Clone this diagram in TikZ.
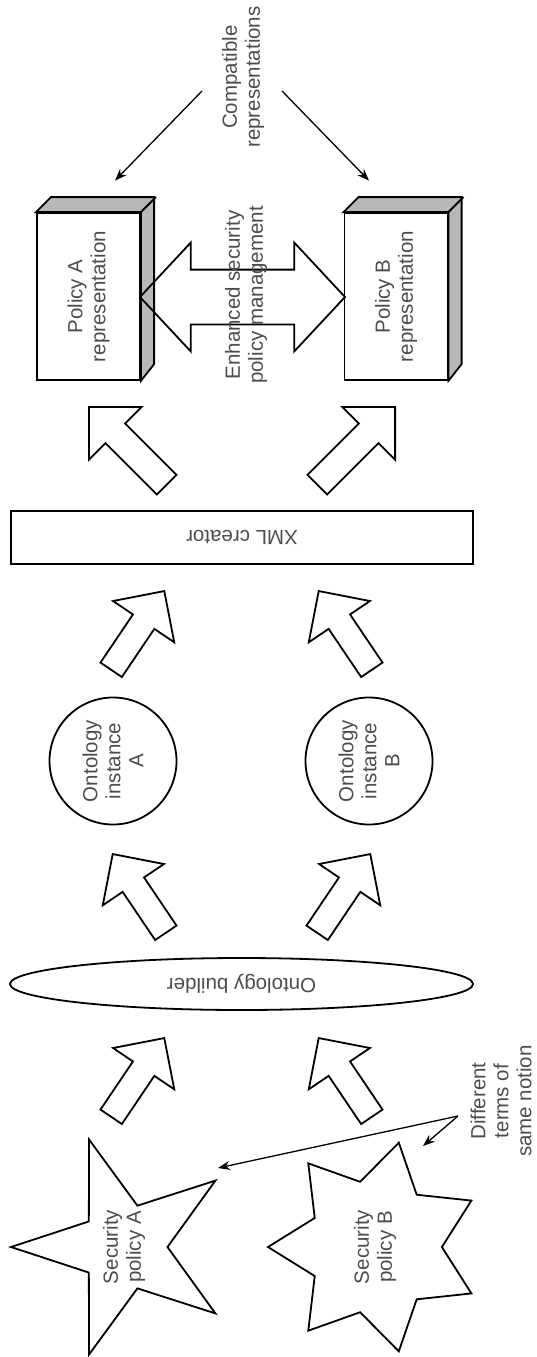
\documentclass[tikz,border=0pt]{standalone}
\usepackage{fontspec}
\setmainfont{Liberation Sans}
\usetikzlibrary{shapes.geometric,shapes.arrows,arrows.meta}
\definecolor{txtgray}{gray}{0.3}
\definecolor{sidegray}{gray}{0.72}
\begin{document}
\begin{tikzpicture}[
    x=1pt, y=1pt,
    every node/.append style={font=\fontsize{20.5}{23}\selectfont, text=txtgray, align=center},
    outline/.style={draw=black, line width=1.8pt},
    lbl/.style={inner sep=0pt},
    fatarrow/.style={single arrow, outline, fill=white, inner xsep=0pt, inner ysep=12pt, minimum width=72pt, single arrow head extend=24pt, minimum height=95pt, anchor=tip},
    longarrow/.style={fatarrow, minimum height=110pt, minimum width=73pt, inner ysep=13pt, single arrow head extend=23.5pt},
    repbox/.style={rectangle, outline, fill=white, minimum width=103pt, minimum height=167pt},
    instance/.style={circle, outline, minimum size=127pt, inner sep=0pt},
    pointer/.style={-{Stealth[length=12pt,width=9pt]}, line width=1.3pt}
]
    \useasboundingbox (0,0) rectangle (536,-1357);

    % Security policies
    \node[star, star points=5, star point ratio=2.6, minimum size=226pt, outline, inner sep=0pt, rotate=90] (starA) at (124,-1247) {};
    \node[lbl, rotate=90] (starAlbl) at (starA) {Security\\policy A};
    \node[star, star points=7, star point ratio=1.6, minimum size=214pt, outline, inner sep=0pt, rotate=90] (starB) at (375,-1247) {};
    \node[lbl, rotate=90] (starBlbl) at (starB) {Security\\policy B};

    % Different terms note
    \node[lbl, rotate=90] (diff) at (501,-1101) {Different\\terms of\\same notion};
    \coordinate (diffsrc) at (458,-1116);
    \draw[pointer] (diffsrc) -- ([shift={(94pt,79pt)}]starA.center);
    \draw[pointer] (diffsrc) -- ([shift={(48pt,101pt)}]starB.center);

    % Ontology builder
    \node[ellipse, outline, minimum width=463pt, minimum height=52pt, inner sep=0pt, rotate=180] (builder) at (241.5,-984) {Ontology builder};
    \node[fatarrow, rotate=56] (flowA1) at (165,-1037) {};
    \node[fatarrow, rotate=124] (flowB1) at (318,-1037) {};

    % Ontology instances
    \node[instance, rotate=90] (instA) at (113,-761) {Ontology\\instance\\A};
    \node[instance, rotate=90] (instB) at (369,-761) {Ontology\\instance\\B};
    \node[fatarrow, rotate=124] (flowA2) at (112,-853) {};
    \node[fatarrow, rotate=56] (flowB2) at (371,-853) {};

    % XML creator
    \node[rectangle, outline, minimum width=462pt, minimum height=53pt, inner sep=0pt, rotate=180] (xml) at (242,-537.5) {XML creator};
    \node[fatarrow, rotate=56] (flowA3) at (165,-590) {};
    \node[fatarrow, rotate=124] (flowB3) at (318,-590) {};
    \node[longarrow, rotate=135] (flowA4) at (88,-406) {};
    \node[longarrow, rotate=45] (flowB4) at (396,-406) {};

    % Policy representations
    \node[repbox] (polA) at (88.5,-296.5) {};
    \filldraw[fill=sidegray, outline] (polA.north west) -- ++(15,15) -- ++(103,0) -- ++(0,-167) -- (polA.south east) -- (polA.north east) -- cycle;
    \draw[outline] (polA.north east) -- ++(15,15);
    \node[lbl, rotate=90] (polAlbl) at (polA) {Policy A\\representation};
    \node[repbox] (polB) at (396,-296.5) {};
    \filldraw[fill=sidegray, outline] (polB.north west) -- ++(15,15) -- ++(103,0) -- ++(0,-167) -- (polB.south east) -- (polB.north east) -- cycle;
    \draw[outline] (polB.north east) -- ++(15,15);
    \node[lbl, rotate=90] (polBlbl) at (polB) {Policy B\\representation};

    % Enhanced management
    \node[double arrow, outline, inner xsep=0pt, inner ysep=26.5pt, minimum height=205pt, minimum width=107pt, double arrow head extend=27pt, double arrow tip angle=94] (mgmt) at (242.5,-297) {};
    \node[lbl, rotate=90] (mgmtlbl) at (246,-295) {Enhanced security\\policy management};

    % Compatible representations
    \node[lbl, rotate=90] (comp) at (243,-77) {Compatible\\representations};
    \coordinate (compL) at (202,-91);
    \coordinate (compR) at (282,-91);
    \draw[pointer] (compL) -- ([shift={(26.5pt,31.5pt)}]polA.north);
    \draw[pointer] (compR) -- ([shift={(-27pt,31.5pt)}]polB.north);
\end{tikzpicture}
\end{document}
